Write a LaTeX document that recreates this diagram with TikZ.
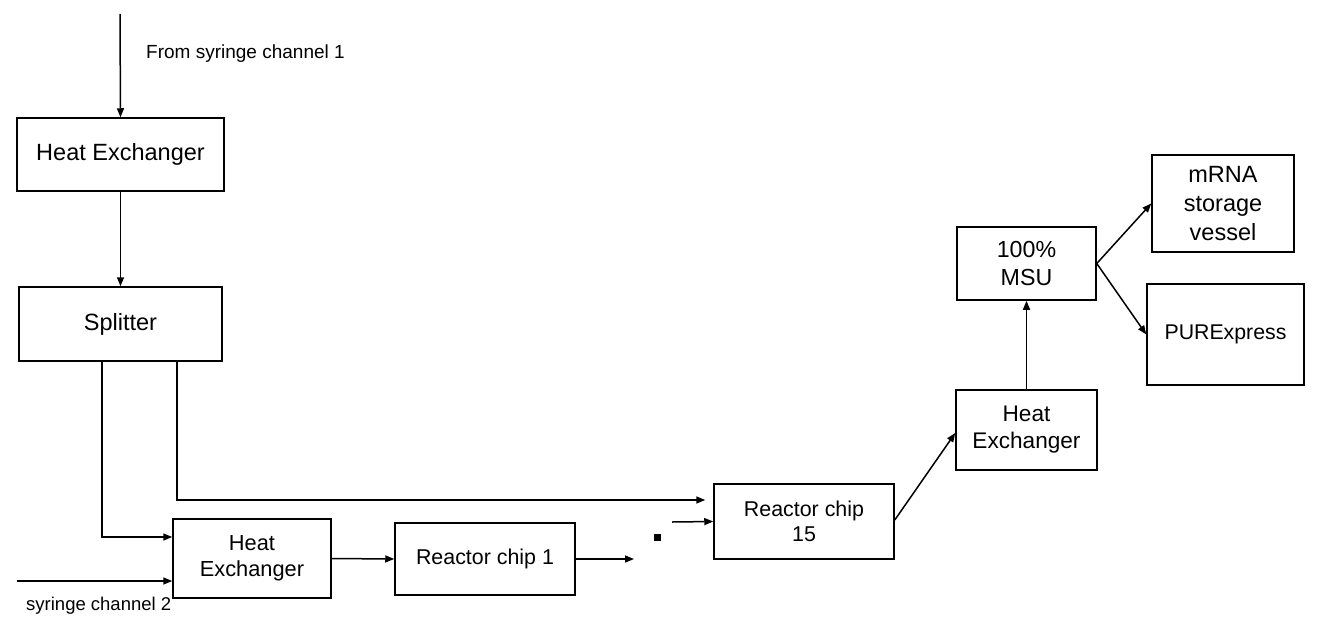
\documentclass[tikz,border=0pt]{standalone}
\usepackage{fontspec}
\setmainfont{Liberation Sans}
\usetikzlibrary{arrows.meta}
\tikzset{
  unit/.style={draw, line width=1.5pt, inner sep=0pt, align=center, fill=white},
  flow/.style={line width=1.5pt, -{Triangle[length=9pt,width=7pt]}},
  tag/.style={anchor=west, inner sep=0pt, font=\fontsize{19}{23}\selectfont},
}
\begin{document}
\begin{tikzpicture}[x=1pt, y=-1pt]
\useasboundingbox (0,0) rectangle (1327,632);

% process units
\node[unit, minimum width=207pt, minimum height=73pt, font=\fontsize{23.5}{28}\selectfont] (hx1) at (120.5,154.5) {Heat Exchanger};
\node[unit, minimum width=203pt, minimum height=74pt, font=\fontsize{23.5}{28}\selectfont] (split) at (120.5,324) {Splitter};
\node[unit, minimum width=158pt, minimum height=79pt, font=\fontsize{21.8}{26.5}\selectfont] (hx2) at (252,558.5) {Heat\\Exchanger};
\node[unit, minimum width=180pt, minimum height=72pt, font=\fontsize{21.4}{26}\selectfont] (rc1) at (485,559) {Reactor chip 1};
\node[unit, minimum width=180pt, minimum height=75pt, font=\fontsize{21.4}{25.5}\selectfont] (rc15) at (804,521.5) {Reactor chip\\15};
\node[unit, minimum width=141pt, minimum height=80pt, font=\fontsize{22.6}{27}\selectfont] (hx3) at (1026.5,430) {Heat\\Exchanger};
\node[unit, minimum width=139pt, minimum height=73pt, font=\fontsize{23.2}{28}\selectfont] (msu) at (1026.5,263.5) {100\%\\MSU};
\node[unit, minimum width=142pt, minimum height=97pt, font=\fontsize{23.5}{29}\selectfont] (mrna) at (1223,203.5) {mRNA\\storage\\vessel};
\node[unit, minimum width=157pt, minimum height=101pt, font=\fontsize{21.3}{25}\selectfont] (pure) at (1225.5,334.5) {PURExpress};

% labels
\node[tag] (lab1) at (146,54) {From syringe channel 1};
\node[tag, font=\fontsize{18.5}{22}\selectfont] (lab2) at (26,606) {syringe channel 2};

% free ends and the gap marker
\coordinate (src1) at (120,14);
\coordinate (src2) at (17,581);
\coordinate (out1) at (634,559);
\coordinate (in15) at (672,522);
\node[fill=black, minimum size=7pt, inner sep=0pt] (gap) at (657.5,537.5) {};

% connectors
\draw[flow] (src1) -- (hx1.north);
\draw[flow] (hx1.south) -- (split.north);
\draw[flow] ([xshift=-18.5pt]split.south) |- ([yshift=21.5pt]hx2.west);
\draw[flow, shorten >=8pt] ([xshift=56.5pt]split.south) |- ([yshift=21.5pt]rc15.west);
\draw[flow] (src2) -- ([yshift=-22.5pt]hx2.west);
\draw[flow] (hx2.east) -- (rc1.west);
\draw[flow] (rc1.east) -- (out1);
\draw[flow] (in15) -- (rc15.west);
\draw[flow] ([yshift=1.5pt]rc15.east) -- ([yshift=-3pt]hx3.west);
\draw[flow] (hx3.north) -- (msu.south);
\draw[flow] (msu.east) -- (mrna.west);
\draw[flow] (msu.east) -- (pure.west);
\end{tikzpicture}
\end{document}
